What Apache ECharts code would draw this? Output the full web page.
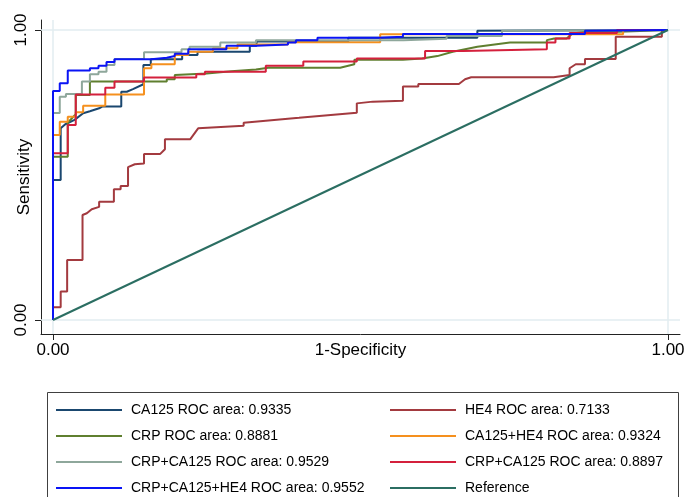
<!DOCTYPE html>
<html><head><meta charset="utf-8">
<script src="https://cdn.jsdelivr.net/npm/echarts@6/dist/echarts.min.js"></script>
<style>html,body{margin:0;padding:0;background:#fff}#c{width:687px;height:497px}</style>
</head><body><div id="c"></div>
<script>
// ---- data (FPR, TPR) ----
const seriesNames = [
  'CA125 ROC area: 0.9335', 'HE4 ROC area: 0.7133',
  'CRP ROC area: 0.8881', 'CA125+HE4 ROC area: 0.9324',
  'CRP+CA125 ROC area: 0.9529', 'CRP+CA125 ROC area: 0.8897',
  'CRP+CA125+HE4 ROC area: 0.9552', 'Reference'
];
const ca125 = [[0,0],[0,0.483],[0.0125,0.483],[0.0125,0.661],[0.02,0.675],[0.035,0.69],[0.049,0.713],[0.06,0.72],[0.075,0.73],[0.08,0.736],[0.111,0.736],[0.111,0.787],[0.12,0.787],[0.13,0.796],[0.147,0.813],[0.147,0.879],[0.159,0.879],[0.159,0.899],[0.21,0.899],[0.21,0.914],[0.235,0.914],[0.235,0.925],[0.32,0.925],[0.32,0.946],[0.331,0.946],[0.331,0.96],[0.48,0.96],[0.48,0.973],[0.69,0.973],[0.69,0.997],[1,1]];
const he4 = [[0,0],[0,0.044],[0.0125,0.044],[0.0125,0.098],[0.023,0.098],[0.023,0.207],[0.048,0.207],[0.048,0.362],[0.055,0.368],[0.063,0.382],[0.075,0.39],[0.075,0.408],[0.099,0.408],[0.099,0.451],[0.11,0.451],[0.11,0.462],[0.122,0.462],[0.122,0.527],[0.133,0.537],[0.148,0.54],[0.148,0.572],[0.174,0.572],[0.182,0.589],[0.182,0.623],[0.223,0.623],[0.236,0.661],[0.31,0.67],[0.31,0.68],[0.40,0.697],[0.494,0.715],[0.494,0.747],[0.52,0.753],[0.569,0.756],[0.569,0.805],[0.594,0.805],[0.594,0.814],[0.66,0.814],[0.67,0.83],[0.68,0.837],[0.814,0.837],[0.84,0.845],[0.84,0.868],[0.85,0.882],[0.865,0.882],[0.865,0.9],[0.915,0.9],[0.915,0.977],[0.99,0.977],[0.99,1],[1,1]];
const crp = [[0,0],[0,0.563],[0.024,0.563],[0.024,0.68],[0.037,0.71],[0.037,0.776],[0.06,0.776],[0.06,0.822],[0.185,0.822],[0.185,0.83],[0.198,0.83],[0.198,0.845],[0.25,0.85],[0.29,0.858],[0.33,0.864],[0.35,0.87],[0.467,0.87],[0.49,0.882],[0.49,0.897],[0.569,0.897],[0.6,0.902],[0.625,0.91],[0.65,0.925],[0.69,0.942],[0.743,0.957],[0.803,0.957],[0.803,0.965],[0.815,0.971],[0.835,0.971],[0.845,0.988],[0.865,0.994],[0.92,0.994],[0.92,1],[1,1]];
const ca125He4 = [[0,0],[0,0.638],[0.011,0.638],[0.011,0.684],[0.024,0.684],[0.024,0.701],[0.037,0.701],[0.037,0.716],[0.049,0.716],[0.049,0.739],[0.085,0.739],[0.085,0.778],[0.148,0.778],[0.148,0.868],[0.16,0.868],[0.16,0.882],[0.198,0.882],[0.198,0.914],[0.22,0.914],[0.22,0.925],[0.26,0.925],[0.26,0.937],[0.3,0.937],[0.3,0.95],[0.382,0.95],[0.382,0.958],[0.532,0.958],[0.532,0.985],[0.927,0.985],[0.927,1],[1,1]];
const crpCa125A = [[0,0],[0,0.714],[0.011,0.714],[0.011,0.77],[0.021,0.77],[0.021,0.779],[0.047,0.779],[0.047,0.822],[0.06,0.822],[0.06,0.847],[0.074,0.847],[0.074,0.856],[0.087,0.856],[0.087,0.879],[0.1,0.879],[0.1,0.9],[0.148,0.9],[0.148,0.923],[0.209,0.923],[0.209,0.934],[0.222,0.934],[0.222,0.942],[0.272,0.942],[0.272,0.957],[0.33,0.957],[0.33,0.965],[0.57,0.965],[0.57,0.97],[0.64,0.97],[0.64,0.979],[0.73,0.979],[0.73,0.997],[1,1]];
const crpCa125B = [[0,0],[0,0.575],[0.024,0.575],[0.024,0.672],[0.037,0.672],[0.037,0.778],[0.085,0.778],[0.085,0.801],[0.1,0.801],[0.1,0.822],[0.148,0.822],[0.148,0.836],[0.233,0.836],[0.233,0.847],[0.247,0.847],[0.247,0.856],[0.346,0.856],[0.346,0.877],[0.407,0.877],[0.407,0.891],[0.494,0.891],[0.494,0.902],[0.605,0.902],[0.605,0.928],[0.667,0.928],[0.667,0.934],[0.803,0.934],[0.803,0.957],[0.817,0.957],[0.817,0.971],[0.84,0.971],[0.84,0.99],[0.917,0.99],[0.917,1],[1,1]];
const crpCa125He4 = [[0,0],[0,0.79],[0.011,0.79],[0.011,0.816],[0.024,0.816],[0.024,0.86],[0.06,0.86],[0.06,0.868],[0.074,0.868],[0.074,0.877],[0.087,0.877],[0.087,0.89],[0.1,0.89],[0.1,0.899],[0.16,0.899],[0.16,0.904],[0.185,0.904],[0.185,0.91],[0.198,0.91],[0.198,0.918],[0.22,0.918],[0.22,0.934],[0.282,0.934],[0.282,0.946],[0.331,0.946],[0.331,0.95],[0.382,0.95],[0.382,0.957],[0.395,0.957],[0.395,0.965],[0.43,0.965],[0.43,0.973],[0.53,0.973],[0.53,0.977],[0.569,0.977],[0.569,0.986],[0.865,0.986],[0.865,0.997],[1,1]];
const reference = [[0,0],[1,1]];
const axisTicks = [0, 1];
const tickLabels = ['0.00', '1.00'];
const legendCol1 = ['CA125 ROC area: 0.9335','CRP ROC area: 0.8881','CRP+CA125 ROC area: 0.9529','CRP+CA125+HE4 ROC area: 0.9552'];
const legendCol2 = ['HE4 ROC area: 0.7133','CA125+HE4 ROC area: 0.9324','CRP+CA125 ROC area: 0.8897','Reference'];

const colors = ['#1a476f','#a33a3f','#5f7f2f','#f5901e','#8ea79b','#d4203c','#0a14f5','#2b6e62'];
const dataList = [ca125, he4, crp, ca125He4, crpCa125A, crpCa125B, crpCa125He4, reference];

const FONT = 'Liberation Sans, Arial, sans-serif';
const chart = echarts.init(document.getElementById('c'), null, {renderer:'canvas'});

const series = dataList.map((d, i) => ({
  name: seriesNames[i], type: 'line', data: d, showSymbol: false, symbol: 'none',
  lineStyle: {width: 2, color: colors[i]}, itemStyle: {color: colors[i]},
  animation: false, z: 3 + i, silent: true
}));
series[0].markLine = {
  silent: true, symbol: 'none', z: 1, animation: false,
  label: {show: false},
  lineStyle: {color: '#e2ecf0', width: 1.5, type: 'solid'},
  data: [{xAxis: axisTicks[0]}, {xAxis: axisTicks[1]}, {yAxis: axisTicks[0]}, {yAxis: axisTicks[1]}]
};

const legendBase = {
  orient: 'vertical', itemWidth: 66, itemHeight: 2, icon: 'rect', itemGap: 10,
  selectedMode: false, padding: 0,
  textStyle: {fontSize: 14, lineHeight: 16, color: '#000', fontFamily: FONT, padding: [0,0,0,4]}
};
const legends = [];
[legendCol1, legendCol2].forEach((col, c) => {
  col.forEach((name, r) => {
    legends.push(Object.assign({}, legendBase, {left: c === 0 ? 56 : 390, top: 402 + r * 26, data: [name]}));
  });
});

chart.setOption({
  animation: false,
  backgroundColor: '#fff',
  grid: {left: 41, right: 7, top: 20, bottom: 163, outerBoundsMode: 'none', containLabel: false},
  xAxis: {
    type: 'value', min: -12/615, max: 1 + 12/615,
    name: '1-Specificity', nameLocation: 'middle', nameGap: 8, nameMoveOverlap: false,
    nameTextStyle: {fontSize: 17, color: '#000', fontFamily: FONT, verticalAlign: 'top'},
    axisLine: {show: true, onZero: false, lineStyle: {color: '#222', width: 1}},
    axisTick: {show: true, customValues: axisTicks, length: 6, lineStyle: {color: '#222'}},
    axisLabel: {customValues: axisTicks, formatter: v => tickLabels[axisTicks.indexOf(v)], fontSize: 17, color: '#000', fontFamily: FONT, margin: 8},
    splitLine: {show: false}
  },
  yAxis: {
    type: 'value', min: -14/290, max: 1 + 10/290,
    name: 'Sensitivity', nameLocation: 'middle', nameGap: 8, nameMoveOverlap: false,
    nameTextStyle: {fontSize: 17, color: '#000', fontFamily: FONT},
    axisLine: {show: true, onZero: false, lineStyle: {color: '#222', width: 1}},
    axisTick: {show: true, customValues: axisTicks, length: 6, lineStyle: {color: '#222'}},
    axisLabel: {customValues: axisTicks, formatter: v => tickLabels[axisTicks.indexOf(v)], rotate: 90, fontSize: 17, color: '#000', fontFamily: FONT, margin: 11},
    splitLine: {show: false}
  },
  legend: legends,
  graphic: [{type: 'rect', shape: {x: 47.5, y: 392.5, width: 631, height: 130}, style: {fill: 'none', stroke: '#404040', lineWidth: 1}, silent: true}],
  series: series
});
</script></body></html>
